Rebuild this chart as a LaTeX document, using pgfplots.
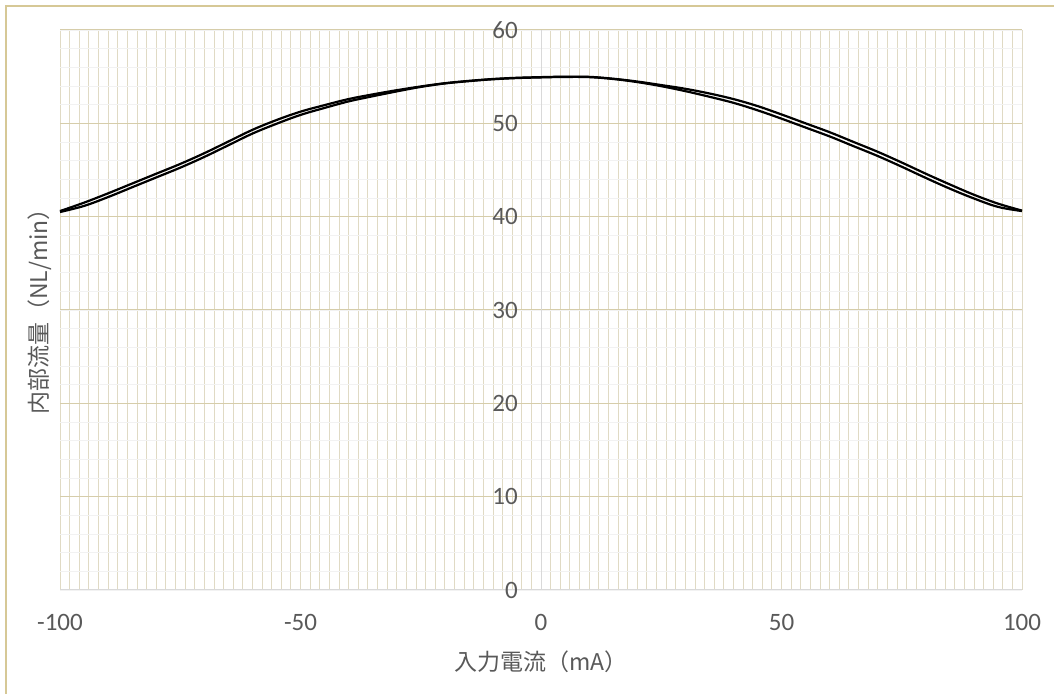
\documentclass[border=0pt]{standalone}
\usepackage{pgfplots}
\pgfplotsset{compat=1.18}
\usepackage{fontspec}
\setmainfont{Carlito}
\newfontfamily\cjk{Noto Sans CJK JP}
\definecolor{tan}{RGB}{224,218,196}
\definecolor{majtan}{RGB}{214,205,170}
\definecolor{bordertan}{RGB}{214,200,150}
\definecolor{minorgray}{RGB}{242,242,242}
\definecolor{axgray}{RGB}{217,217,217}
\definecolor{txt}{RGB}{89,89,89}
\begin{document}
\begin{tikzpicture}
\useasboundingbox (0,0) rectangle (1054pt,693pt);
\draw[bordertan, line width=1.5pt] (6pt,-5pt) -- (6pt,687pt) -- (1060pt,687pt);
\begin{axis}[
  at={(60pt,103pt)}, anchor=south west,
  scale only axis, width=962pt, height=560pt,
  xmin=-100, xmax=100, ymin=0, ymax=60,
  axis x line=bottom, axis y line=center,
  axis line style={draw=axgray, line width=1pt, -},
  xtick={-100,-50,0,50,100}, ytick={0,10,...,60},
  minor xtick={-100,-98,...,100}, minor ytick={0,2,...,60},
  major tick length=0pt, minor tick length=0pt,
  hide obscured x ticks=false, hide obscured y ticks=false,
  grid=both,
  major x grid style={tan, line width=0.8pt},
  minor x grid style={tan, line width=0.8pt},
  major y grid style={majtan, line width=1pt},
  minor y grid style={minorgray, line width=0.8pt},
  /pgf/number format/assume math mode=true,
  ticklabel style={font=\fontsize{25}{30}\selectfont, text=txt, inner sep=0pt},
  xticklabel style={anchor=center, yshift=-32pt},
  yticklabel style={anchor=east, xshift=-23pt},
  xlabel={\cjk 入力電流（mA）},
  ylabel={\cjk 内部流量（NL/min）},
  label style={font=\fontsize{23}{27}\selectfont, text=txt},
  xlabel style={at={(axis description cs:0.5,0)}, anchor=center, yshift=-72pt},
  ylabel style={at={(axis description cs:0,0.5)}, anchor=center, xshift=-20pt, yshift=4pt, rotate=0},
  every axis y label/.append style={rotate=90},
  clip=false,
]
\addplot[black, line width=2.2pt, smooth, tension=0.6] coordinates {
(-100,40.6) (-95,41.5) (-90,42.5) (-85,43.55) (-80,44.6) (-75,45.65) (-70,46.8)
(-65,48.05) (-60,49.3) (-55,50.35) (-50,51.25) (-45,51.95) (-40,52.6) (-35,53.1)
(-30,53.55) (-25,53.95) (-20,54.3) (-15,54.55) (-10,54.75) (-5,54.88) (0,54.95)
(5,55.0) (10,54.98) (15,54.78) (20,54.48) (25,54.1) (30,53.7) (35,53.2) (40,52.6)
(45,51.85) (50,50.95) (55,50.0) (60,49.05) (65,48.0) (70,46.95) (75,45.8) (80,44.6)
(85,43.45) (90,42.35) (95,41.4) (100,40.65)
};
\addplot[black, line width=2.2pt, smooth, tension=0.6] coordinates {
(-100,40.5) (-95,41.15) (-90,42.1) (-85,43.15) (-80,44.2) (-75,45.25) (-70,46.4)
(-65,47.65) (-60,48.9) (-55,49.95) (-50,50.9) (-45,51.65) (-40,52.35) (-35,52.9)
(-30,53.42) (-25,53.9) (-20,54.27) (-15,54.52) (-10,54.72) (-5,54.85) (0,54.92)
(5,54.97) (10,54.95) (15,54.75) (20,54.42) (25,53.98) (30,53.45) (35,52.85) (40,52.2)
(45,51.4) (50,50.5) (55,49.55) (60,48.6) (65,47.55) (70,46.5) (75,45.35) (80,44.15)
(85,43.0) (90,41.95) (95,41.05) (100,40.6)
};
\end{axis}
\end{tikzpicture}
\end{document}
